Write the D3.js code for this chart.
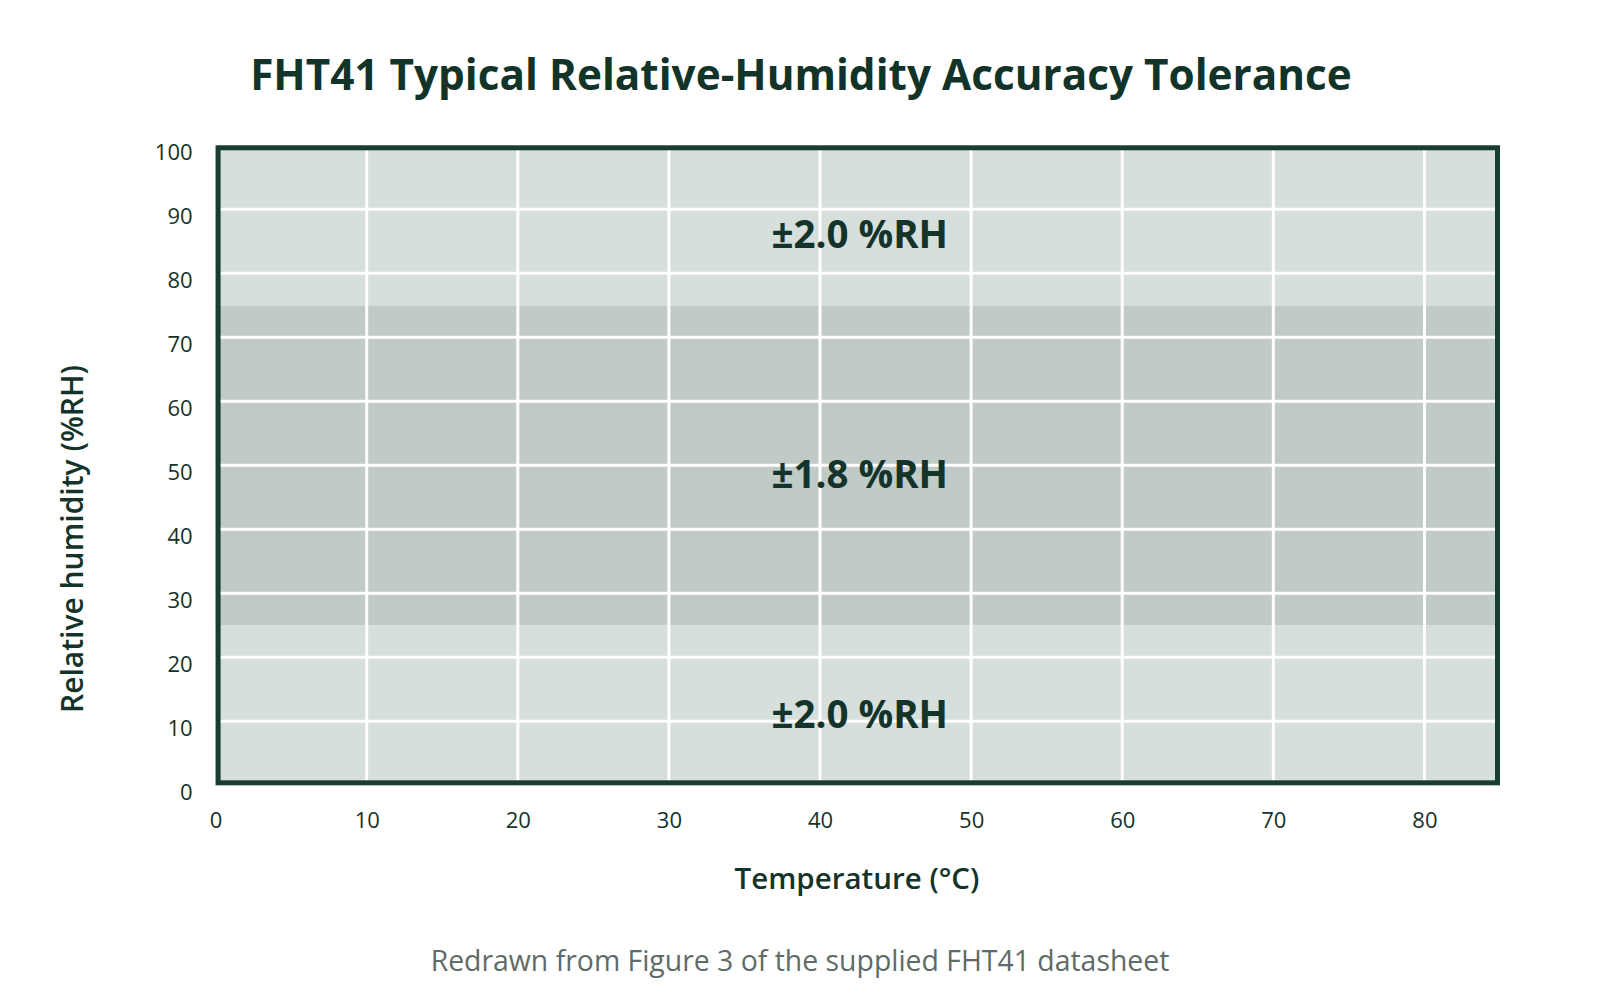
<!DOCTYPE html>
<html><head><meta charset="utf-8">
<script src="https://cdn.jsdelivr.net/npm/d3@7"></script>
<style>html,body{margin:0;padding:0;background:#fff;}</style>
</head><body>
<svg id="chart" width="1600" height="1000"></svg>
<script>
// Data
const bandLows = [0, 25, 75];
const bandHighs = [25, 75, 100];
const bandTolerance = ["±2.0 %RH", "±1.8 %RH", "±2.0 %RH"];
const bandShade = ["outer", "inner", "outer"];
const xTicks = [0, 10, 20, 30, 40, 50, 60, 70, 80];
const yTicks = [0, 10, 20, 30, 40, 50, 60, 70, 80, 90, 100];
const xDomain = [0, 85];
const yDomain = [0, 100];

const svg = d3.select("#chart");
const L = 215.6, R = 1500, T = 145.3, B = 785.3;
const x = d3.scaleLinear().domain(xDomain).range([L, R]);
const y = d3.scaleLinear().domain(yDomain).range([B, T]);
const dark = "#14332a";
const font = "'Open Sans', 'Noto Sans', sans-serif";
const fill = {outer: "#d6dfdc", inner: "#c0cac6"};

// Bands
svg.append("g").selectAll("rect").data(bandLows).join("rect")
  .attr("x", x(xDomain[0])).attr("width", x(xDomain[1]) - x(xDomain[0]))
  .attr("y", (d, i) => y(bandHighs[i]))
  .attr("height", (d, i) => y(d) - y(bandHighs[i]))
  .attr("fill", (d, i) => fill[bandShade[i]]);

// Gridlines
const grid = svg.append("g").attr("stroke", "#fff").attr("stroke-width", 3);
grid.selectAll("line.v").data(xTicks.filter(d => d > xDomain[0] && d < xDomain[1])).join("line")
  .attr("class", "v").attr("x1", d => x(d)).attr("x2", d => x(d)).attr("y1", T).attr("y2", B);
grid.selectAll("line.h").data(yTicks.filter(d => d > yDomain[0] && d < yDomain[1])).join("line")
  .attr("class", "h").attr("y1", d => y(d)).attr("y2", d => y(d)).attr("x1", L).attr("x2", R);

// Band labels
svg.append("g").selectAll("text").data(bandTolerance).join("text")
  .attr("x", x((xDomain[0] + xDomain[1]) / 2) + 2)
  .attr("y", (d, i) => y((bandLows[i] + bandHighs[i]) / 2) + 23)
  .attr("text-anchor", "middle")
  .attr("font-family", font).attr("font-weight", 700).attr("font-size", 38.5)
  .attr("fill", dark).text(d => d);

// Frame
svg.append("rect").attr("x", L + 2.5).attr("y", T + 2.5)
  .attr("width", R - L - 5).attr("height", B - T - 5)
  .attr("fill", "none").attr("stroke", "#1a3c32").attr("stroke-width", 5);

// Axes (tick labels)
const xAxis = svg.append("g").attr("transform", `translate(0,${B})`)
  .call(d3.axisBottom(x).tickValues(xTicks).tickSize(0).tickPadding(0));
xAxis.select(".domain").remove();
xAxis.selectAll("text").attr("y", 43).attr("dy", 0)
  .attr("font-family", font).attr("font-size", 22).attr("fill", dark);

const yAxis = svg.append("g").attr("transform", `translate(${L},0)`)
  .call(d3.axisLeft(y).tickValues(yTicks).tickSize(0).tickPadding(0));
yAxis.select(".domain").remove();
yAxis.selectAll("text").attr("x", -23).attr("dy", 0).attr("y", 14)
  .attr("font-family", font).attr("font-size", 22).attr("fill", dark);

// Titles
svg.append("text").attr("x", 801).attr("y", 90).attr("text-anchor", "middle")
  .attr("font-family", font).attr("font-weight", 700).attr("font-size", 42.3)
  .attr("fill", "#123328").text("FHT41 Typical Relative-Humidity Accuracy Tolerance");

svg.append("text").attr("x", 857).attr("y", 889).attr("text-anchor", "middle")
  .attr("font-family", font).attr("font-weight", 600).attr("font-size", 29.5)
  .attr("fill", dark).text("Temperature (°C)");

svg.append("text").attr("transform", "translate(83,539) rotate(-90)")
  .attr("text-anchor", "middle")
  .attr("font-family", font).attr("font-weight", 600).attr("font-size", 30)
  .attr("fill", dark).text("Relative humidity (%RH)");

svg.append("text").attr("x", 800).attr("y", 971).attr("text-anchor", "middle")
  .attr("font-family", font).attr("font-size", 28.4)
  .attr("fill", "#5f6b67").text("Redrawn from Figure 3 of the supplied FHT41 datasheet");
</script>
</body></html>
